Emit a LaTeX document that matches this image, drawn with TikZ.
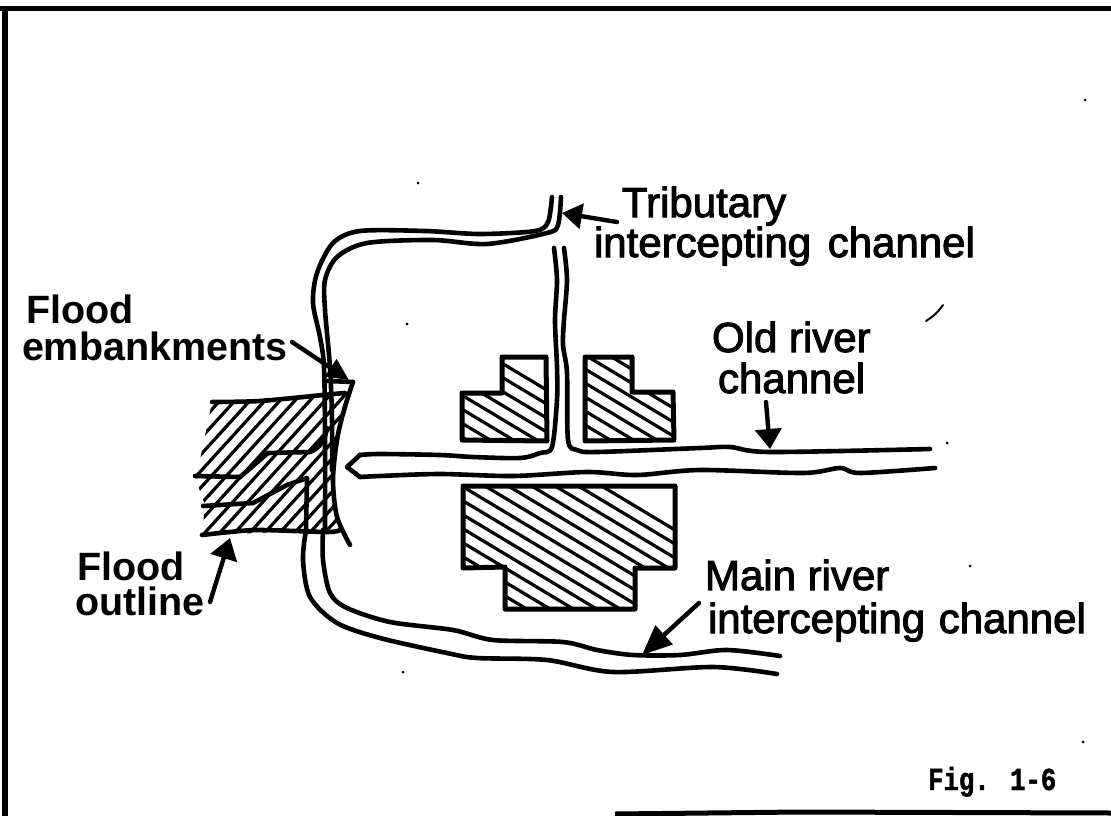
\documentclass[tikz,border=0pt]{standalone}
\usepackage{fontspec}
\usetikzlibrary{arrows.meta}
\newfontfamily\lab{Liberation Sans}[FakeBold=2.4]
\newfontfamily\labh{Liberation Sans Bold}
\newfontfamily\figfont{Liberation Mono Bold}[FakeStretch=0.8,FakeBold=1.5]
\tikzset{
  x=1pt,y=-1pt,
  wall/.style={line width=5pt,line cap=round,line join=round},
  chan/.style={line width=4.6pt,line cap=round,line join=round},
  hatchline/.style={line width=3.2pt},
  lbl/.style={anchor=base west,inner sep=0pt,outer sep=0pt,font=\lab\fontsize{42}{42}\selectfont},
  lblh/.style={anchor=base west,inner sep=0pt,outer sep=0pt,font=\labh\fontsize{39.5}{39.5}\selectfont},
  lead/.style={line width=4.4pt,line cap=round},
  speck/.style={fill=black,draw=none},
}
\begin{document}
\begin{tikzpicture}
\path[use as bounding box] (0,0) rectangle (1111,816);
\clip (0,0) rectangle (1111,816);
% frame
\draw[line width=5pt] (0,9) -- (1111,9);
\draw[line width=6pt] (5,9) -- (5,816);
\draw[line width=5pt] (615,814) -- (800,812) -- (1111,813);
% buildings
\def\bldA{(502,357) -- (546,357) -- (547,441) -- (462,440) -- (462,393) -- (502,393) -- cycle}
\def\bldB{(585,357) -- (632,357) -- (632,392) -- (673,392) -- (674,440) -- (585,441) -- cycle}
\def\bldC{(463,486) -- (675,486) -- (675,568) -- (635,568) -- (635,609) -- (505,609) -- (505,567) -- (463,568) -- cycle}
\begin{scope}
  \clip \bldA;
  \foreach \c in {0,14,...,140} \draw[hatchline] (450,{\c+332}) -- +(120,72);
\end{scope}
\begin{scope}
  \clip \bldB;
  \foreach \c in {0,14,...,196} \draw[hatchline] (575,{\c+293}) -- +(120,72);
\end{scope}
\begin{scope}
  \clip \bldC;
  \foreach \c in {0,14,...,280} \draw[hatchline] (450,{\c+395}) -- +(240,144);
\end{scope}
\draw[wall] \bldA;
\draw[wall] \bldB;
\draw[wall] \bldC;
% flood area hatching
\begin{scope}
  \clip (212,402) -- (352,392) -- (337,440) -- (333,480) -- (338,530) -- (202,535) -- (205,505) -- (195,477) -- (200,460) -- cycle;
  \foreach \c in {-90,-75,...,225} \draw[hatchline] ({\c+135},560) -- +(150,-165);
\end{scope}
% flood outline
\draw[chan] plot[smooth] coordinates {(212,402) (260,401) (323,395) (345,393)};
\draw[chan] plot[smooth] coordinates {(202,535) (230,532) (260,530) (327,532) (340,530)};
\draw[chan] (195,476) -- (240,477) -- (268,453) -- (310,452) .. controls (320,448) and (325,440) .. (327,428);
\draw[chan] (203,506) -- (253,503) -- (287,485) -- (307,478) -- (306,530);
% embankment
\draw[chan] (328,381) -- (353,382);
\draw[chan] plot[smooth] coordinates {(353,382) (344,410) (337,440) (333,480) (337,517) (350,545)};
% tributary channel, upper part and west side
\draw[chan] plot[smooth] coordinates {(552,197) (548,222) (535,231) (480,234) (425,231) (360,231) (333,243) (317,273) (313,303) (320,337) (324,367) (325,440) (325,530)};
\draw[chan] plot[smooth] coordinates {(561,197) (558,225) (547,233) (487,244) (433,240) (367,243) (337,257) (325,280) (325,310) (330,367) (332,420) (332,470)};
% tributary lower part and old river
\draw[chan] plot[smooth] coordinates {(554,248) (557,280) (555,320) (557,367) (557,400) (552,447) (540,453) (520,458) (473,457) (440,455) (380,454) (360,455)};
\draw[chan] (360,455) -- (347,467) -- (360,477);
\draw[chan] plot[smooth] coordinates {(360,477) (380,476) (440,474) (513,476) (587,472) (637,475) (700,470) (803,473) (840,468) (860,473) (935,468)};
\draw[chan] plot[smooth] coordinates {(564,248) (567,280) (564,320) (563,345) (567,373) (568,440) (577,450) (597,452) (700,448) (730,447) (770,452) (930,449)};
% main river
\draw[chan] plot[smooth] coordinates {(306,530) (303,560) (310,597) (337,623) (380,638) (447,653) (477,658) (547,660) (613,672) (713,667) (777,674)};
\draw[chan] plot[smooth] coordinates {(323,530) (323,560) (330,593) (347,608) (390,622) (453,630) (493,640) (563,642) (597,650) (633,655) (680,655) (727,650) (780,656)};
% labels
\node[lbl] (trib) at (622,217) {Tributary};
\node[lbl] (tribb) at (594,257) {intercepting\hspace{5pt} channel};
\node[lblh] (fe) at (26,323) {Flood};
\node[lblh] (feb) at (22,360) {embankments};
\node[lbl] (old) at (712,352) {Old river};
\node[lbl] (oldb) at (718,393) {channel};
\node[lblh] (fo) at (77,580) {Flood};
\node[lblh] (fob) at (75,615) {outline};
\node[lbl] (mr) at (705,590) {Main river};
\node[lbl] (mrb) at (708,633) {intercepting\hspace{2pt} channel};
\node[anchor=base west,inner sep=0pt,font=\figfont\fontsize{32}{32}\selectfont] (fig) at (928,790) {Fig. 1-6};
% leaders
\coordinate (a1s) at (617,222); \coordinate (a1e) at (562,213);
\coordinate (a2s) at (766,402); \coordinate (a2e) at (770,449);
\coordinate (a3s) at (699,603); \coordinate (a3e) at (642,655);
\coordinate (a4s) at (210,602); \coordinate (a4e) at (230,538);
\coordinate (a5s) at (292,342); \coordinate (a5e) at (349,380);
\draw[lead,-{Triangle[length=20pt,width=25pt]}] (a1s) -- (a1e);
\draw[lead,-{Triangle[length=20pt,width=26pt]}] (a2s) -- (a2e);
\draw[lead,-{Triangle[length=30pt,width=25pt]}] (a3s) -- (a3e);
\draw[lead,-{Triangle[length=21pt,width=27pt]}] (a4s) -- (a4e);
\draw[lead,-{Triangle[length=22pt,width=20pt]}] (a5s) -- (a5e);
% stray marks
\draw[line width=2pt,line cap=round] (926,321) .. controls (934,316) and (938,312) .. (943,305);
\foreach \p in {(418,183),(407,324),(698,243),(947,443),(970,566),(403,672),(1085,100),(1083,742)}
  \fill[speck] \p circle (1.5pt);
\end{tikzpicture}
\end{document}
